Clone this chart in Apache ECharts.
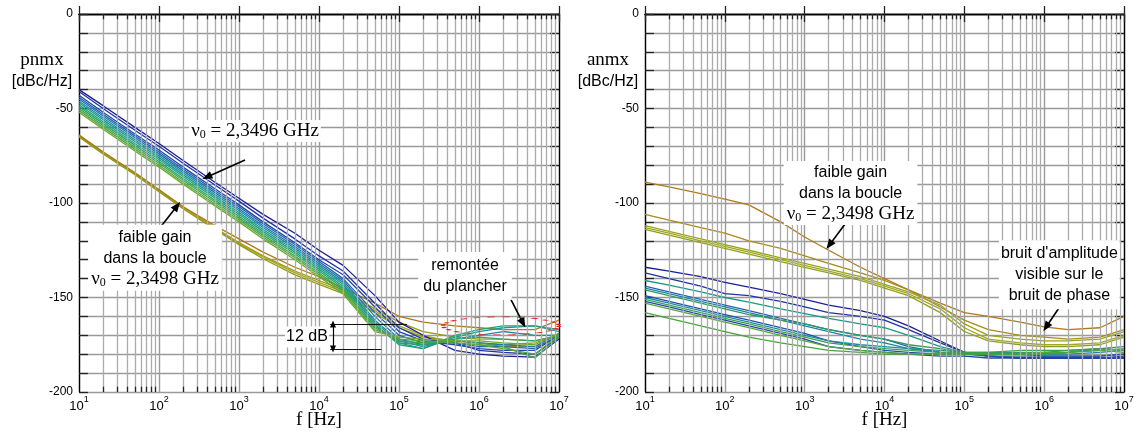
<!DOCTYPE html>
<html><head><meta charset="utf-8">
<script src="https://cdn.jsdelivr.net/npm/echarts@6/dist/echarts.min.js"></script>
<style>html,body{margin:0;padding:0;background:#fff}#c{width:1134px;height:431px}</style>
</head><body><div id="c"></div>
<script>
// ---------- data ----------
const freqs = [10,20,50,100,200,500,1e3,2e3,5e3,1e4,2e4,5e4,1e5,2e5,5e5,1e6,2e6,5e6,1e7];
const decades = [10,100,1e3,1e4,1e5,1e6];
const minorMult = [2,3,4,5,6,7,8,9];
const yLabelStep = 50;

// left panel: pnmx, loop curves (blue -> green)
const pnLoop = [
  [-40,-48.5,-60,-68.5,-77.5,-89,-97.5,-106,-116,-125,-133,-149,-163,-170,-178,-180,-181,-181.5,-172],
  [-41,-50,-61.5,-70,-79,-90.5,-99,-108,-119,-128,-136,-153,-166,-172,-174,-178,-179,-180,-171],
  [-43,-52,-63.5,-72,-81,-92.5,-101,-110,-121,-130,-138,-155,-168,-173,-175,-177,-178,-178,-170],
  [-44,-53,-64.5,-73,-82,-93.5,-102,-111,-122,-131,-140,-158,-170,-174,-174,-176,-176,-177,-170],
  [-45,-54,-65.5,-74,-83,-94.5,-103,-112,-123,-132,-141,-160,-172,-175,-173,-174,-175,-176,-169],
  [-46,-55,-66.5,-75,-84,-95.5,-104,-113,-124,-133,-142,-162,-173,-176,-172,-170,-168,-170,-170],
  [-47,-56,-67.5,-76,-85,-96.5,-105,-114,-125,-134,-143,-163,-174,-177,-171,-168,-166,-165,-168],
  [-48,-57,-68.5,-77,-86,-97.5,-106,-115,-126,-135,-144,-164,-175,-177,-170,-167,-165,-165,-167],
  [-49,-58,-69.5,-78,-87,-98.5,-107,-116,-127,-136,-145,-165,-174,-175,-172,-171,-172,-173,-170],
  [-50,-59,-70.5,-79,-88,-99.5,-108,-117,-128,-137,-146,-166,-173,-174,-173,-174,-176,-182,-171],
  [-51,-60,-71.5,-80,-89,-100.5,-109,-118,-129,-138,-147,-167,-172,-173,-174,-175,-177,-180,-170],
  [-52,-61,-72.5,-81,-90,-101.5,-110,-119,-130,-139,-148,-168,-171,-172,-173,-173,-174,-175,-169]
];
const pnLoopColors = ['#1b1f96','#1f33a4','#2147ac','#225fb0','#2075ac','#1c8aa4','#189890','#1ea07c','#2aa266','#3ca44e','#52a63a','#6aa82c'];
// left panel: low loop gain curves
const pnLowGain = [
  [-64,-73,-84,-93,-102,-113,-121,-128,-136,-141,-146,-156,-163,-168,-171,-172,-172,-173,-170],
  [-64.5,-73.5,-84.5,-93.5,-102.5,-113.5,-121.5,-128.5,-137,-142,-147,-157,-165,-170,-174,-175,-176,-176,-171],
  [-65,-74,-85,-94,-103,-114,-122,-129.5,-138,-143,-148,-158,-166,-171,-173,-174,-175,-174,-170],
  [-64,-73,-84,-93,-102,-112,-119,-126,-134,-139,-145,-153,-160,-163,-165,-166,-167,-167,-162]
];
const pnLowGainColors = ['#9a9a10','#a6a41a','#8e9a14','#b07818'];

// right panel: anmx, loop curves
const anLoop = [
  [-134,-136,-139,-142,-144.5,-148,-151,-154,-157,-160,-165,-173,-179,-181,-182,-182,-182,-182,-182],
  [-137,-140,-144,-148,-149,-152,-155,-158,-160,-162,-167,-174,-179,-181,-182,-182,-182,-182,-182],
  [-141,-143.5,-147,-150,-152.5,-156,-158.5,-161,-164,-166,-170,-176,-179,-180,-180,-180,-179,-177,-176],
  [-144,-147,-151,-154,-157,-161,-164,-167,-170,-172,-176,-179,-180,-181,-181,-181,-181,-181,-180],
  [-145,-148,-152,-155,-158,-162,-165,-168,-172,-174,-177,-179,-180,-180,-180,-180,-180,-179,-178],
  [-146,-149,-153,-156,-159,-162,-164,-167,-170,-172,-175,-177,-179,-179,-179,-179,-178,-177,-178],
  [-149,-152,-156,-159,-162,-166,-169,-173,-176,-178,-179,-180,-180,-180,-180,-181,-181,-181,-180],
  [-150,-153,-157,-160,-163,-167,-170,-173,-175,-176,-177,-178,-179,-180,-180,-180,-179,-177,-178],
  [-151,-154,-158,-161,-164,-168,-171,-174,-176,-177,-178,-179,-179,-179,-178,-178,-178,-177,-178],
  [-152,-155,-159,-162,-165,-169,-172,-176,-178,-179,-180,-181,-181,-182,-182,-182,-182,-182,-181],
  [-153,-156,-160,-163,-166,-170,-173,-176,-178,-179,-180,-180,-180,-180,-180,-179,-179,-178,-177],
  [-158,-161,-165,-168,-171,-174,-176,-178,-179,-180,-180,-180,-180,-180,-180,-180,-179,-178,-179]
];
const anLoopColors = ['#1b1f96','#1f33a4','#189a8a','#2462b0','#1f80aa','#2a9c5a','#2050ae','#1a8e9e','#3aa04a','#2a44a8','#50a838','#46a43a'];
// right panel: low loop gain curves
const anLowGain = [
  [-89,-91.5,-95,-98,-101,-110,-118,-125,-134,-140,-146,-153,-158,-160,-163,-165.5,-167,-166,-160],
  [-106,-109,-113,-116,-120,-124,-128,-132,-137,-141,-146,-155,-162,-167,-170,-171,-172,-171,-167],
  [-112,-115,-119,-122,-125,-129,-132,-135,-139,-143,-147,-154,-164,-170,-172,-173,-173,-172,-168],
  [-113,-116,-120,-123,-126,-130,-133,-136,-140,-144,-148,-156,-166,-172,-174,-175,-175,-174,-170],
  [-114,-117,-121,-124,-127,-131,-134,-137,-141,-145,-149,-158,-168,-173,-175,-176,-176,-175,-171]
];
const anLowGainColors = ['#b07818','#aa8a14','#98a41a','#a0a81c','#8ea018'];

// ---------- chart ----------
const chart = echarts.init(document.getElementById('c'));
const SANS = 'Liberation Sans', SERIF = 'Liberation Serif';
const grids = [
  {left:79, top:14, width:480, height:378, outerBoundsMode:'none', containLabel:false},
  {left:645, top:14, width:479, height:378, outerBoundsMode:'none', containLabel:false}
];
const xAxes = [], yAxes = [];
grids.forEach((g, gi) => {
  xAxes.push({
    type:'log', logBase:10, gridIndex:gi, min:10, max:1e7, splitNumber:6,
    axisLine:{lineStyle:{color:'#000', width:1.3}},
    axisTick:{inside:true, length:8, lineStyle:{color:'#222', width:1.3}},
    axisLabel:{margin:3, color:'#000',
      formatter: v => '{b|10}{s|' + Math.round(Math.log10(v)) + '}',
      rich:{b:{fontFamily:SANS, fontSize:13, lineHeight:18, verticalAlign:'bottom', color:'#000'},
            s:{fontFamily:SANS, fontSize:9, lineHeight:10, verticalAlign:'top', color:'#000'}}},
    splitLine:{show:true, lineStyle:{color:'#9a9a9a', width:1.4}},
    name:'f [Hz]', nameLocation:'middle', nameGap:28, nameMoveOverlap:false,
    nameTextStyle:{fontFamily:SERIF, fontSize:19, color:'#000', verticalAlign:'middle', lineHeight:20}
  });
  xAxes.push({
    type:'log', logBase:10, gridIndex:gi, min:10, max:1e7, splitNumber:6, position:'top',
    axisLine:{lineStyle:{color:'#000', width:1.3}},
    axisTick:{inside:true, length:8, lineStyle:{color:'#222', width:1.3}},
    axisLabel:{show:false}, splitLine:{show:false}
  });
  yAxes.push({
    type:'value', gridIndex:gi, min:-200, max:0, interval:10,
    axisLine:{show:true, lineStyle:{color:'#000', width:1.3}},
    axisTick:{inside:true, length:9, lineStyle:{color:'#222', width:1.3}},
    axisLabel:{margin:6, color:'#000', fontFamily:SANS, fontSize:12,
      formatter: v => (v % yLabelStep === 0 ? String(v) : '')},
    splitLine:{show:true, lineStyle:{color:'#9a9a9a', width:1.4}}
  });
  yAxes.push({
    type:'value', gridIndex:gi, min:-200, max:0, interval:10, position:'right',
    axisLine:{show:true, lineStyle:{color:'#000', width:1.3}},
    axisTick:{inside:true, length:9, lineStyle:{color:'#222', width:1.3}},
    axisLabel:{show:false}, splitLine:{show:false}
  });
});

const series = [];
// minor log grid lines and minor ticks
grids.forEach((g, gi) => {
  const mData = [];
  const tData = [];
  decades.forEach(d => minorMult.forEach(m => {
    mData.push({xAxis: d*m});
    tData.push([{coord:[d*m, 0]}, {coord:[d*m, -2.8]}]);
    tData.push([{coord:[d*m, -200]}, {coord:[d*m, -197.2]}]);
  }));
  series.push({type:'line', xAxisIndex:gi*2, yAxisIndex:gi*2, data:[], z:1, silent:true,
    markLine:{silent:true, symbol:['none','none'], label:{show:false}, animation:false,
      lineStyle:{color:'#ababab', width:1.3, type:'solid'}, data:mData}});
  series.push({type:'line', xAxisIndex:gi*2, yAxisIndex:gi*2, data:[], z:3, silent:true,
    markLine:{silent:true, symbol:['none','none'], label:{show:false}, animation:false,
      lineStyle:{color:'#222', width:1.3, type:'solid'}, data:tData}});
});

function addCurves(list, colors, gi) {
  list.forEach((arr, i) => {
    series.push({type:'line', xAxisIndex:gi*2, yAxisIndex:gi*2, showSymbol:false, silent:true,
      smooth:false, z:4,
      lineStyle:{color:colors[i], width:1.3},
      data: freqs.map((f, k) => [f, arr[k]])});
  });
}
addCurves(pnLowGain, pnLowGainColors, 0);
addCurves(pnLoop, pnLoopColors, 0);
addCurves(anLowGain, anLowGainColors, 1);
addCurves(anLoop, anLoopColors, 1);

// ---------- annotations ----------
const richT = {
  t:{fontFamily:SANS, fontSize:16, lineHeight:21, color:'#000'},
  n:{fontFamily:SERIF, fontSize:19, lineHeight:20, color:'#000'},
  sub:{fontFamily:SERIF, fontSize:12, lineHeight:11, verticalAlign:'bottom', color:'#000'}
};
function lbl(coord, text, pad) {
  return {coord, symbol:'rect', symbolSize:1, itemStyle:{color:'rgba(0,0,0,0)'},
    label:{show:true, position:'inside', formatter:text, rich:richT, backgroundColor:'#fff',
      padding:pad || [1,3], align:'center', verticalAlign:'middle', color:'#000'}};
}
const p = (e) => Math.pow(10, e);
const arrowStyle = {color:'#000', width:1.6, type:'solid'};
function arrow(a, b) {
  return [{coord:a, symbol:'none'}, {coord:b, symbol:'triangle', symbolSize:[8,10]}];
}
// left annotations
series.push({type:'line', xAxisIndex:0, yAxisIndex:0, data:[], z:6, silent:true,
  markLine:{silent:true, animation:false, label:{show:false}, symbol:['none','none'],
    lineStyle:arrowStyle,
    data:[
      arrow([p(3.075), -77.2], [p(2.6), -86.2]),
      arrow([p(2.0), -113.8], [p(2.225), -101.6]),
      arrow([p(6.39), -150.3], [p(6.55), -163.5]),
      [{coord:[p(4.14), -164], symbol:'none', lineStyle:{color:'#111', width:1}}, {coord:[p(5.1), -164], symbol:'none'}],
      [{coord:[p(4.14), -177.2], symbol:'none', lineStyle:{color:'#111', width:1}}, {coord:[p(4.78), -177.2], symbol:'none'}],
      [{coord:[p(4.175), -164], symbol:'triangle', symbolSize:[6,7], lineStyle:{color:'#000', width:1.2}},
       {coord:[p(4.175), -177.2], symbol:'triangle', symbolSize:[6,7]}]
    ]},
  markPoint:{silent:true, animation:false, data:[
    lbl([p(3.2), -61.9], '{n|ν}{sub|0}{n| = 2,3496 GHz}', [1,2]),
    lbl([p(1.95), -129], '{t|faible gain}\n{t|dans la boucle}\n{n|ν}{sub|0}{n| = 2,3498 GHz}', [2,3]),
    lbl([p(5.825), -138.6], '{t|remontée}\n{t|du plancher}', [3,5]),
    lbl([p(3.85), -170.9], '{t|12 dB}', [0,1]),
    {coord:[p(6.275), -165], symbol:'circle', symbolSize:[116,18],
      itemStyle:{color:'rgba(0,0,0,0)', borderColor:'#e8201c', borderWidth:1.8, borderType:[3,3]},
      label:{show:false}}
  ]}
});
// right annotations
series.push({type:'line', xAxisIndex:2, yAxisIndex:2, data:[], z:6, silent:true,
  markLine:{silent:true, animation:false, label:{show:false}, symbol:['none','none'],
    lineStyle:arrowStyle,
    data:[
      arrow([p(3.525), -110], [p(3.31), -122.2]),
      arrow([p(6.21), -154], [p(6.025), -165.6])
    ]},
  markPoint:{silent:true, animation:false, data:[
    lbl([p(3.575), -94.7], '{t|faible gain}\n{t|dans la boucle}\n{n|ν}{sub|0}{n| = 2,3498 GHz}', [1,3]),
    lbl([p(6.19), -138], '{t|bruit d\'amplitude}\n{t|visible sur le}\n{t|bruit de phase}', [3,2])
  ]}
});

chart.setOption({
  animation:false,
  backgroundColor:'#fff',
  grid: grids,
  xAxis: xAxes,
  yAxis: yAxes,
  series: series,
  graphic:[
    {type:'text', x:42, y:60, style:{text:'pnmx', font:'19px "Liberation Serif"', fill:'#000', textAlign:'center', textVerticalAlign:'middle', align:'center', verticalAlign:'middle'}},
    {type:'text', x:42, y:82, style:{text:'[dBc/Hz]', font:'16px "Liberation Sans"', fill:'#000', textAlign:'center', textVerticalAlign:'middle', align:'center', verticalAlign:'middle'}},
    {type:'text', x:608, y:60, style:{text:'anmx', font:'19px "Liberation Serif"', fill:'#000', textAlign:'center', textVerticalAlign:'middle', align:'center', verticalAlign:'middle'}},
    {type:'text', x:608, y:82, style:{text:'[dBc/Hz]', font:'16px "Liberation Sans"', fill:'#000', textAlign:'center', textVerticalAlign:'middle', align:'center', verticalAlign:'middle'}}
  ]
});
</script>
</body></html>
